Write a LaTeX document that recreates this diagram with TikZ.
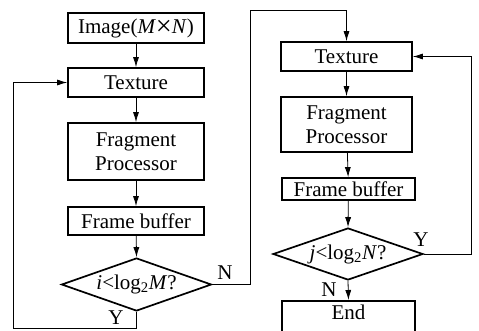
\documentclass[tikz,border=0pt]{standalone}
\usepackage{fontspec}
\setmainfont{Liberation Serif}
\usetikzlibrary{shapes.geometric,arrows.meta}
\begin{document}
\begin{tikzpicture}[x=1pt,y=-1pt,
  every node/.style={font=\fontsize{21}{24}\selectfont, inner sep=0pt},
  box/.style={draw, line width=1.7pt, rectangle, align=center},
  cond/.style={draw, line width=1.7pt, diamond, minimum width=150pt, minimum height=53pt},
  link/.style={line width=0.8pt, -{Latex[length=10pt,width=6pt]}},
  lbl/.style={font=\fontsize{21}{24}\selectfont}]
\useasboundingbox (0,0) rectangle (479,330);
\clip (0,0) rectangle (479,330);

% left column
\node[box, minimum width=136pt, minimum height=30pt] (img) at (136,28)
  {Image(\textit{M}\raisebox{-2.5pt}{\scalebox{1.35}{×}}\textit{N})};
\node[box, minimum width=136pt, minimum height=29pt] (texA) at (136,82.5) {Texture};
\node[box, minimum width=136pt, minimum height=57pt] (fragA) at (136,151.5) {Fragment\\Processor};
\node[box, minimum width=136pt, minimum height=28pt] (fbA) at (136,221) {Frame buffer};
\node[cond] (dA) at (136.5,284.5) {};
\node (dAtxt) at (dA.center) {\textit{i}<log\textsubscript{2}\textit{M}?};

% right column
\node[box, minimum width=131pt, minimum height=29pt] (texB) at (346.5,56.5) {Texture};
\node[box, minimum width=131pt, minimum height=55pt] (fragB) at (346.5,124.5) {Fragment\\Processor};
\node[box, minimum width=133pt, minimum height=22pt] (fbB) at (348.5,189) {Frame buffer};
\node[cond, minimum width=150pt, minimum height=52pt] (dB) at (348,254) {};
\node (dBtxt) at (dB.center) {\textit{j}<log\textsubscript{2}\textit{N}?};
\node[box, minimum width=133pt, minimum height=60pt, anchor=north, text depth=38pt] (endB) at (348.5,300) {End};

% vertical flow
\draw[link] (img) -- (texA);
\draw[link] (texA) -- (fragA);
\draw[link] (fragA) -- (fbA);
\draw[link] (fbA) -- (dA.north);
\draw[link] (texB) -- (fragB);
\draw[link] (fragB) -- (fbB);
\draw[link] (fbB) -- (dB.north);
\draw[link] (dB.south) -- (endB.north);

% loops
\coordinate (loopA) at (13,328);
\draw[link] (dA.south) |- (loopA) |- (texA.west);
\coordinate (jumpA) at (250,10);
\draw[link] (dA.east) -| (jumpA) -| (texB.north);
\coordinate (loopB) at (471,254);
\draw[link] (dB.east) -- (loopB) |- (texB.east);

% branch labels
\node[lbl] (nA) at (225,273) {N};
\node[lbl] (yA) at (116,318) {Y};
\node[lbl] (yB) at (421,240) {Y};
\node[lbl] (nB) at (329,290) {N};
\end{tikzpicture}
\end{document}
